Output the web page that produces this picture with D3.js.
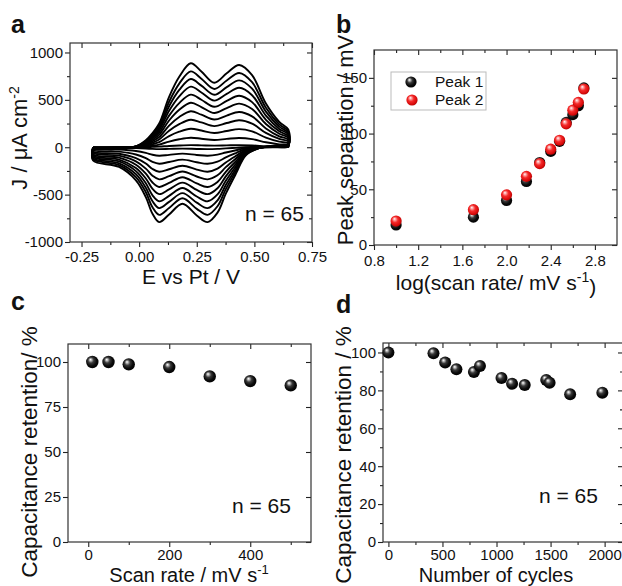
<!DOCTYPE html>
<html><head><meta charset="utf-8">
<script src="https://cdn.jsdelivr.net/npm/d3@7"></script>
<style>
body{margin:0;background:#fff}
svg{display:block}
text{font-family:"Liberation Sans",Arial,sans-serif;fill:#111}
</style>
</head><body>
<svg id="fig" width="622" height="586"></svg>
<script>
// ---------- data ----------
// panel a: cyclic voltammograms (largest curve shape) and peak current per curve
const cvScanRates = [500, 450, 400, 350, 300, 250, 200, 150, 100, 50, 10];
const cvPeakCurrent = [886, 800, 720, 640, 555, 470, 380, 290, 195, 100, 22];
const cvAnodicE = [-0.2, -0.1, -0.014, 0.029, 0.058, 0.087, 0.13, 0.174, 0.224, 0.27, 0.326, 0.38, 0.434, 0.49, 0.55, 0.608, 0.647];
const cvAnodicJ = [-14, -8, 10, 74, 150, 250, 532, 744, 886, 800, 681, 780, 868, 760, 462, 268, 187];
const cvCathodicE = [0.647, 0.6, 0.55, 0.52, 0.463, 0.42, 0.376, 0.34, 0.297, 0.25, 0.188, 0.13, 0.087, 0.058, 0.029, -0.014, -0.087, -0.2];
const cvCathodicJ = [30, 20, 5, -10, -85, -279, -490, -690, -790, -720, -596, -710, -790, -702, -526, -349, -208, -140];
// panel b
const logScanRate = [1.0, 1.7, 2.0, 2.18, 2.3, 2.4, 2.48, 2.54, 2.6, 2.65, 2.7];
const peak1Sep = [18, 25, 40, 57, 74, 84, 93, 110, 117, 125, 141];
const peak2Sep = [21.5, 31.7, 45, 61.6, 73, 86, 94, 108.7, 121, 128, 140];
// panel c
const scanRate = [10, 50, 100, 200, 300, 400, 500];
const retentionScan = [100, 100, 98.7, 97.2, 92, 89.4, 87];
// panel d
const cycles = [0, 417, 525, 629, 791, 847, 1046, 1144, 1261, 1460, 1491, 1681, 1979];
const retentionCycles = [100, 99.6, 94.7, 91.2, 89.7, 92.9, 86.5, 83.5, 82.8, 85.5, 84, 77.9, 78.8];
// tick values
const aXTicks = [-0.25, 0, 0.25, 0.5, 0.75], aXMinor = [-0.125, 0.125, 0.375, 0.625];
const aYTicks = [-1000, -500, 0, 500, 1000], aYMinor = [-750, -250, 250, 750];
const bXTicks = [0.8, 1.2, 1.6, 2.0, 2.4, 2.8], bXMinor = [1.0, 1.4, 1.8, 2.2, 2.6];
const bYTicks = [0, 50, 100, 150], bYMinor = [25, 75, 125];
const cXTicks = [0, 200, 400], cXMinor = [100, 300, 500];
const cYTicks = [0, 25, 50, 75, 100], cYMinor = [];
const dXTicks = [0, 500, 1000, 1500, 2000], dXMinor = [250, 750, 1250, 1750];
const dYTicks = [0, 20, 40, 60, 80, 100], dYMinor = [10, 30, 50, 70, 90];

// ---------- drawing ----------
const svg = d3.select('#fig');
const defs = svg.append('defs');
const loc = d3.formatLocale({decimal: '.', thousands: ',', grouping: [3], currency: ['', ''], minus: '-'});
function sphereGrad(id, stops){
  const g = defs.append('radialGradient').attr('id', id)
    .attr('cx','45%').attr('cy','45%').attr('r','60%').attr('fx','35%').attr('fy','30%');
  stops.forEach(s => g.append('stop').attr('offset', s[0]).attr('stop-color', s[1]));
}
sphereGrad('gBlack', [['0%','#ffffff'],['12%','#c8c8c8'],['38%','#3a3a3a'],['70%','#0a0a0a'],['100%','#000']]);
sphereGrad('gRed', [['0%','#ffffff'],['15%','#ffb0b0'],['45%','#f42a2a'],['80%','#d80a0a'],['100%','#a00000']]);

const TICKFONT = '15px', TITLEFONT = '21px';

function panel(o){
  const x = d3.scaleLinear().domain(o.xd).range([o.l, o.r]);
  const y = d3.scaleLinear().domain(o.yd).range([o.b, o.t]);
  const g = svg.append('g');
  const style = sel => {
    sel.select('.domain').remove();
    sel.attr('font-size', null).attr('font-family', null);
    sel.selectAll('line').attr('stroke', '#222').attr('stroke-width', 1.1);
    sel.selectAll('text').style('font-size', TICKFONT).attr('fill', '#111');
  };
  g.append('g').attr('transform', `translate(0,${o.b})`)
    .call(d3.axisBottom(x).tickValues(o.xt).tickSize(5).tickPadding(o.xpad).tickFormat(o.xf)).call(style);
  g.append('g').attr('transform', `translate(0,${o.b})`)
    .call(d3.axisBottom(x).tickValues(o.xm).tickSize(3).tickFormat('')).call(style);
  g.append('g').attr('transform', `translate(0,${o.t})`)
    .call(d3.axisTop(x).tickValues(o.xt).tickSize(-5).tickFormat('')).call(style);
  g.append('g').attr('transform', `translate(0,${o.t})`)
    .call(d3.axisTop(x).tickValues(o.xm).tickSize(-3).tickFormat('')).call(style);
  g.append('g').attr('transform', `translate(${o.l},0)`)
    .call(d3.axisLeft(y).tickValues(o.yt).tickSize(5).tickPadding(2).tickFormat(o.yf)).call(style);
  g.append('g').attr('transform', `translate(${o.l},0)`)
    .call(d3.axisLeft(y).tickValues(o.ym).tickSize(3).tickFormat('')).call(style);
  g.append('g').attr('transform', `translate(${o.r},0)`)
    .call(d3.axisRight(y).tickValues(o.yt).tickSize(-5).tickFormat('')).call(style);
  g.append('g').attr('transform', `translate(${o.r},0)`)
    .call(d3.axisRight(y).tickValues(o.ym).tickSize(-3).tickFormat('')).call(style);
  g.append('rect').attr('x', o.l).attr('y', o.t).attr('width', o.r - o.l).attr('height', o.b - o.t)
    .attr('fill', 'none').attr('stroke', '#333').attr('stroke-width', 1.2);
  return {x, y, g};
}

function spheres(p, xs, ys, grad, r){
  p.g.append('g').selectAll('circle').data(xs.map((v, i) => [v, ys[i]])).join('circle')
    .attr('cx', d => p.x(d[0])).attr('cy', d => p.y(d[1])).attr('r', r)
    .attr('fill', `url(#${grad})`);
}
function label(txt, x, y){
  svg.append('text').attr('x', x).attr('y', y).text(txt)
    .style('font-size', '25px').style('font-weight', 'bold').attr('fill', '#111');
}
function nlabel(x, y){
  svg.append('text').attr('x', x).attr('y', y).text('n = 65').style('font-size', '21px');
}
function ytitle(x, y, size, build){
  const t = svg.append('text').attr('transform', `translate(${x},${y}) rotate(-90)`)
    .attr('text-anchor', 'middle').style('font-size', size);
  build(t);
}

// ----- panel a -----
const pa = panel({l: 70, r: 312, t: 43, b: 242, xd: [-0.3, 0.75], yd: [-1000, 1100],
  xt: aXTicks, xm: aXMinor, yt: aYTicks, ym: aYMinor, xpad: 4,
  xf: loc.format('.2f'), yf: loc.format('d')});
const cvLine = d3.line().x(d => pa.x(d[0])).y(d => pa.y(d[1])).curve(d3.curveCatmullRom.alpha(0.5));
const cvMax = d3.max(cvPeakCurrent);
cvPeakCurrent.forEach(pk => {
  const s = pk / cvMax;
  const pts = cvAnodicE.map((e, i) => [e, cvAnodicJ[i] * s])
    .concat(cvCathodicE.map((e, i) => [e, cvCathodicJ[i] * s]));
  pts.push(pts[0]);
  pa.g.append('path').attr('d', cvLine(pts)).attr('fill', 'none')
    .attr('stroke', '#000').attr('stroke-width', 1.9).attr('stroke-linejoin', 'round');
});
label('a', 11, 33);
nlabel(245, 221);
svg.append('text').attr('x', 191).attr('y', 284).attr('text-anchor', 'middle').style('font-size', TITLEFONT).text('E vs Pt / V');
ytitle(27, 138, '22px', t => {
  t.append('tspan').text('J / \u03bcA cm');
  t.append('tspan').attr('dy', '-0.55em').style('font-size', '14px').text('-2');
});

// ----- panel b -----
const pb = panel({l: 374, r: 617, t: 50, b: 245, xd: [0.8, 3.0], yd: [0, 175],
  xt: bXTicks, xm: bXMinor, yt: bYTicks, ym: bYMinor, xpad: 5,
  xf: loc.format('.1f'), yf: loc.format('d')});
spheres(pb, logScanRate, peak1Sep, 'gBlack', 5.6);
spheres(pb, logScanRate, peak2Sep, 'gRed', 5.6);
pb.g.append('rect').attr('x', 391).attr('y', 72).attr('width', 95).attr('height', 38)
  .attr('fill', '#fff').attr('stroke', '#bbb').attr('stroke-width', 1);
pb.g.append('circle').attr('cx', 411).attr('cy', 82).attr('r', 5.6).attr('fill', 'url(#gBlack)');
pb.g.append('circle').attr('cx', 412).attr('cy', 100).attr('r', 5.6).attr('fill', 'url(#gRed)');
pb.g.append('text').attr('x', 435).attr('y', 87).style('font-size', '15.5px').text('Peak 1');
pb.g.append('text').attr('x', 435).attr('y', 105).style('font-size', '15.5px').text('Peak 2');
label('b', 336, 33);
{
  const t = svg.append('text').attr('x', 496).attr('y', 290).attr('text-anchor', 'middle').style('font-size', TITLEFONT);
  t.append('tspan').text('log(scan rate/ mV s');
  t.append('tspan').attr('dy', '-0.55em').style('font-size', '14px').text('-1');
  t.append('tspan').attr('dy', '0.55em').text(')');
}
ytitle(353, 140, '22px', t => t.text('Peak separation / mV'));

// ----- panel c -----
const pc = panel({l: 68, r: 311, t: 344, b: 542, xd: [-50, 550], yd: [0, 110],
  xt: cXTicks, xm: cXMinor, yt: cYTicks, ym: cYMinor, xpad: 2,
  xf: loc.format('d'), yf: loc.format('d')});
spheres(pc, scanRate, retentionScan, 'gBlack', 6.2);
label('c', 11, 310);
nlabel(232, 513);
{
  const t = svg.append('text').attr('x', 189).attr('y', 581.5).attr('text-anchor', 'middle').style('font-size', '20px');
  t.append('tspan').text('Scan rate / mV s');
  t.append('tspan').attr('dy', '-0.55em').style('font-size', '13px').text('-1');
}
ytitle(37, 452, '22.5px', t => t.text('Capacitance retention/ %'));

// ----- panel d -----
const pd = panel({l: 383, r: 623, t: 343, b: 542, xd: [-50, 2170], yd: [0, 105],
  xt: dXTicks, xm: dXMinor, yt: dYTicks, ym: dYMinor, xpad: 2,
  xf: loc.format('d'), yf: loc.format('d')});
spheres(pd, cycles, retentionCycles, 'gBlack', 6);
label('d', 336, 313);
nlabel(539, 503);
svg.append('text').attr('x', 496).attr('y', 581.5).attr('text-anchor', 'middle').style('font-size', '20px').text('Number of cycles');
ytitle(351, 455, '22.5px', t => t.text('Capacitance retention / %'));
</script>
</body></html>
